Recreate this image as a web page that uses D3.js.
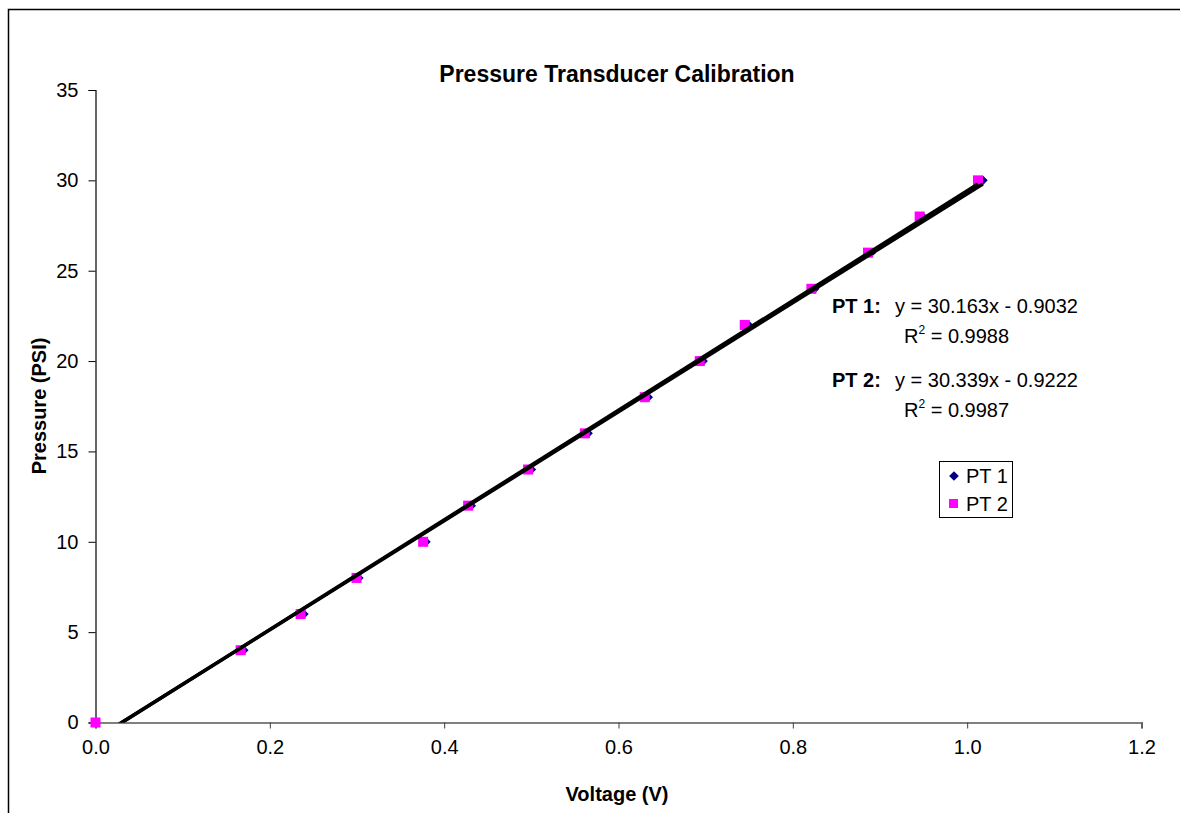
<!DOCTYPE html>
<html><head><meta charset="utf-8">
<script src="https://cdn.jsdelivr.net/npm/d3@7"></script>
<style>
body{margin:0;background:#fff;}
svg text{font-family:Arial,"Liberation Sans",sans-serif;}
</style></head>
<body>
<svg id="c" width="1180" height="813"></svg>
<script>
const pressure = [0, 4, 6, 8, 10, 12, 14, 16, 18, 20, 22, 24, 26, 28, 30];
const voltagePT1 = [0, 0.170, 0.239, 0.302, 0.379, 0.431, 0.500, 0.565, 0.634, 0.697, 0.749, 0.825, 0.890, 0.949, 1.018];
const voltagePT2 = [0, 0.1665, 0.2353, 0.2995, 0.3759, 0.4275, 0.4963, 0.5614, 0.6301, 0.6932, 0.7448, 0.8213, 0.8862, 0.9455, 1.0124];
const xTicks = [0, 0.2, 0.4, 0.6, 0.8, 1.0, 1.2];
const yTicks = [0, 5, 10, 15, 20, 25, 30, 35];
const fits = [
  {name: "PT 1", slope: 30.163, intercept: -0.9032, r2: "0.9988"},
  {name: "PT 2", slope: 30.339, intercept: -0.9222, r2: "0.9987"}
];

const FS = 20;
const svg = d3.select("#c");
const x = d3.scaleLinear().domain([0, 1.2]).range([95.5, 1141.5]);
const y = d3.scaleLinear().domain([0, 35]).range([722.5, 90]);

// outer border
svg.append("rect").attr("x", 8.5).attr("y", 9.5).attr("width", 1300).attr("height", 900)
  .attr("fill", "none").attr("stroke", "#000").attr("stroke-width", 1.5);

// title
svg.append("text").attr("x", 617).attr("y", 82).attr("text-anchor", "middle")
  .attr("font-weight", "bold").attr("font-size", 23).text("Pressure Transducer Calibration");

// x axis
const xAxis = svg.append("g").attr("transform", `translate(0,${y(0)})`)
  .call(d3.axisBottom(x).tickValues(xTicks).tickFormat(d3.format(".1f")).tickSize(6).tickPadding(11));
xAxis.select(".domain").attr("stroke", "#808080").attr("stroke-width", 2);
xAxis.selectAll(".tick line").attr("stroke", "#404040");
xAxis.selectAll(".tick text").attr("font-size", FS).attr("fill", "#000").attr("font-family", "Arial, Liberation Sans, sans-serif");

// y axis
const yAxis = svg.append("g").attr("transform", `translate(${x(0)},0)`)
  .call(d3.axisLeft(y).tickValues(yTicks).tickFormat(d3.format("d")).tickSize(7).tickPadding(10));
yAxis.select(".domain").attr("stroke", "#000").attr("stroke-width", 1.2);
yAxis.selectAll(".tick line").attr("stroke", "#000");
yAxis.selectAll(".tick text").attr("font-size", FS).attr("fill", "#000").attr("font-family", "Arial, Liberation Sans, sans-serif");

// axis titles
svg.append("text").attr("x", 617).attr("y", 801).attr("text-anchor", "middle")
  .attr("font-weight", "bold").attr("font-size", FS).text("Voltage (V)");
svg.append("text").attr("transform", "translate(46,406) rotate(-90)").attr("text-anchor", "middle")
  .attr("font-weight", "bold").attr("font-size", FS).text("Pressure (PSI)");

// markers
const diamond = d3.symbol().type(d3.symbolDiamond2).size(60);
svg.append("g").selectAll("path").data(pressure.map((p, i) => [voltagePT1[i], p])).join("path")
  .attr("d", diamond).attr("transform", d => `translate(${x(d[0])},${y(d[1])})`).attr("fill", "#000080");
svg.append("g").selectAll("rect").data(pressure.map((p, i) => [voltagePT2[i], p])).join("rect")
  .attr("x", d => x(d[0]) - 5).attr("y", d => y(d[1]) - 5).attr("width", 10).attr("height", 10).attr("fill", "#ff00ff");

// trendlines (clipped to plot area)
svg.append("clipPath").attr("id", "clip").append("rect")
  .attr("x", x(0)).attr("y", y(35)).attr("width", x(1.2) - x(0)).attr("height", y(0) - y(35));
const xmax = [d3.max(voltagePT1), d3.max(voltagePT2)];
const tl = svg.append("g").attr("clip-path", "url(#clip)");
fits.forEach((f, i) => {
  const x0 = 0, x1 = xmax[i];
  tl.append("line")
    .attr("x1", x(x0)).attr("y1", y(f.slope * x0 + f.intercept))
    .attr("x2", x(x1)).attr("y2", y(f.slope * x1 + f.intercept))
    .attr("stroke", "#000").attr("stroke-width", 3.5);
});

// equations
const eqY = [313, 387];
fits.forEach((f, i) => {
  const t = svg.append("text").attr("x", 832).attr("y", eqY[i]).attr("font-size", FS);
  t.append("tspan").attr("font-weight", "bold").text(f.name + ":");
  t.append("tspan").attr("x", 895).text(`y = ${f.slope}x - ${Math.abs(f.intercept)}`);
  const r = svg.append("text").attr("x", 904).attr("y", eqY[i] + 30).attr("font-size", FS);
  r.append("tspan").text("R");
  r.append("tspan").attr("font-size", 12).attr("dy", -9).text("2");
  r.append("tspan").attr("dy", 9).text(" = " + f.r2);
});

// legend
const lg = svg.append("g");
lg.append("rect").attr("x", 939.5).attr("y", 461.5).attr("width", 73).attr("height", 56)
  .attr("fill", "#fff").attr("stroke", "#000").attr("stroke-width", 1);
lg.append("path").attr("d", diamond).attr("transform", "translate(954,476)").attr("fill", "#000080");
lg.append("text").attr("x", 966).attr("y", 483).attr("font-size", FS).text("PT 1");
lg.append("rect").attr("x", 949).attr("y", 499).attr("width", 9).attr("height", 9).attr("fill", "#ff00ff");
lg.append("text").attr("x", 966).attr("y", 511).attr("font-size", FS).text("PT 2");
</script>
</body></html>
